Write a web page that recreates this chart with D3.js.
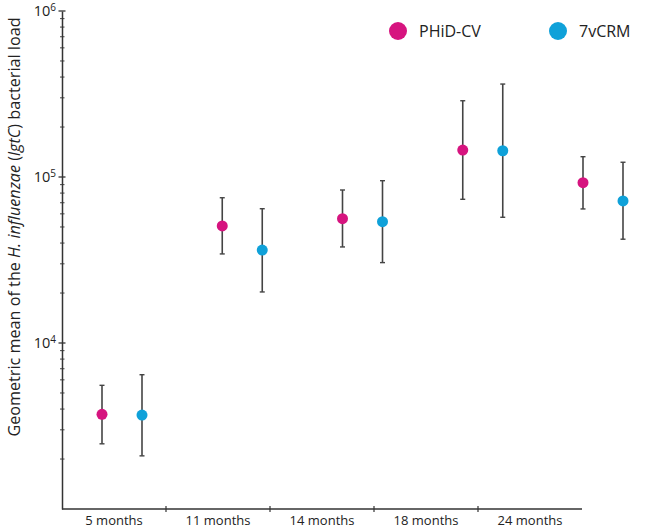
<!DOCTYPE html>
<html>
<head>
<meta charset="utf-8">
<script src="https://cdn.jsdelivr.net/npm/d3@7"></script>
<style>
  body { margin: 0; background: #fff; }
  text { font-family: "Open Sans", "Noto Sans", sans-serif; fill: #222; }
</style>
</head>
<body>
<div id="chart"></div>
<script>
var width = 665;
var height = 530;

// categories and series
var months = ["5 months", "11 months", "14 months", "18 months", "24 months"];
var groups = ["PHiD-CV", "7vCRM"];
var groupColors = ["#d6147f", "#0fa1d9"];

var phidMean  = [3720, 50700, 56100, 145400, 92400];
var phidLow   = [2470, 34400, 37900, 73400, 64200];
var phidHigh  = [5560, 75000, 83500, 288000, 132500];

var crmMean   = [3680, 36300, 53800, 143900, 71700];
var crmLow    = [2090, 20300, 30500, 57200, 42200];
var crmHigh   = [6440, 64400, 95000, 363000, 122700];

var yTickMajor = [1e3, 1e4, 1e5, 1e6];

var series = [
  { name: groups[0], color: groupColors[0], mean: phidMean, low: phidLow, high: phidHigh, shift: 0 },
  { name: groups[1], color: groupColors[1], mean: crmMean, low: crmLow, high: crmHigh, shift: 40 }
];

var svg = d3.select("#chart").append("svg")
    .attr("width", width)
    .attr("height", height);

var y = d3.scaleLog().domain([1e3, 1e6]).range([509, 11]);

// axis labels sit in bands, the points sit on their own (wider) grid like the original
var xBand = d3.scaleBand().domain(months).range([62, 582]);
var xPoint = d3.scalePoint().domain(months).range([102, 583]);

// minor ticks
var minor = [];
[1e3, 1e4, 1e5].forEach(function(d) {
  for (var k = 2; k <= 9; k++) minor.push(d * k);
});

svg.append("g").selectAll("line")
  .data(minor)
  .join("line")
    .attr("x1", 60).attr("x2", 64.5)
    .attr("y1", d => y(d)).attr("y2", d => y(d))
    .attr("stroke", "#555").attr("stroke-width", 1.1);

var yAxis = svg.append("g")
    .attr("transform", "translate(62,0)")
    .call(d3.axisLeft(y).tickValues(yTickMajor.slice(1)).tickSize(0).tickFormat(""));
yAxis.select(".domain").attr("stroke", "#333").attr("stroke-width", 1.5);

// major ticks cross the axis
svg.append("g").selectAll("line")
  .data(yTickMajor.slice(1))
  .join("line")
    .attr("x1", 58.5).attr("x2", 65.5)
    .attr("y1", d => y(d)).attr("y2", d => y(d))
    .attr("stroke", "#333").attr("stroke-width", 1.3);

// 10^n labels
var yLab = svg.append("g").selectAll("text")
  .data(yTickMajor.slice(1))
  .join("text")
    .attr("x", 56)
    .attr("y", d => y(d) + 5)
    .attr("text-anchor", "end")
    .style("font-size", "14.5px");
yLab.append("tspan").text("10");
yLab.append("tspan")
    .attr("dy", "-0.55em")
    .style("font-size", "10px")
    .text(d => Math.round(Math.log10(d)));

// x axis
svg.append("line")
    .attr("x1", 62).attr("x2", 582)
    .attr("y1", 509).attr("y2", 509)
    .attr("stroke", "#333").attr("stroke-width", 1.5);

svg.append("g").selectAll("line")
  .data(months.slice(1))
  .join("line")
    .attr("x1", d => xBand(d)).attr("x2", d => xBand(d))
    .attr("y1", 506).attr("y2", 512)
    .attr("stroke", "#333").attr("stroke-width", 1.2);

svg.append("g")
    .attr("transform", "translate(0,509)")
    .call(d3.axisBottom(xBand).tickSize(0).tickPadding(7))
    .call(g => g.select(".domain").remove())
    .call(g => g.selectAll("text")
        .style("font-family", "'Open Sans', sans-serif")
        .style("font-size", "13px")
        .attr("fill", "#222"));

// y title
var title = svg.append("text")
    .attr("transform", "translate(20,227) rotate(-90)")
    .attr("text-anchor", "middle")
    .style("font-size", "16.2px");
title.append("tspan").text("Geometric mean of the ");
title.append("tspan").style("font-style", "italic").text("H. influenzae");
title.append("tspan").text(" (");
title.append("tspan").style("font-style", "italic").text("lgtC");
title.append("tspan").text(") bacterial load");

// error bars and points
series.forEach(function(s) {
  var g = svg.append("g");
  var rows = months.map((m, i) => ({ m: m, mean: s.mean[i], low: s.low[i], high: s.high[i] }));
  var cx = d => xPoint(d.m) + s.shift;

  g.selectAll(".bar")
    .data(rows)
    .join("line")
      .attr("x1", cx).attr("x2", cx)
      .attr("y1", d => y(d.low)).attr("y2", d => y(d.high))
      .attr("stroke", "#444").attr("stroke-width", 1.6);

  g.selectAll(".capHi")
    .data(rows)
    .join("line")
      .attr("x1", d => cx(d) - 2.5).attr("x2", d => cx(d) + 2.5)
      .attr("y1", d => y(d.high)).attr("y2", d => y(d.high))
      .attr("stroke", "#444").attr("stroke-width", 1.4);

  g.selectAll(".capLo")
    .data(rows)
    .join("line")
      .attr("x1", d => cx(d) - 2.5).attr("x2", d => cx(d) + 2.5)
      .attr("y1", d => y(d.low)).attr("y2", d => y(d.low))
      .attr("stroke", "#444").attr("stroke-width", 1.4);

  g.selectAll("circle")
    .data(rows)
    .join("circle")
      .attr("cx", cx)
      .attr("cy", d => y(d.mean))
      .attr("r", 5.5)
      .attr("fill", s.color);
});

// legend
var legendX = [398, 558];
var legend = svg.append("g").selectAll("g")
  .data(series)
  .join("g")
    .attr("transform", (d, i) => `translate(${legendX[i]},31)`);
legend.append("circle")
    .attr("r", 9)
    .attr("fill", d => d.color);
legend.append("text")
    .attr("x", 21)
    .attr("y", 5.5)
    .style("font-size", "16px")
    .text(d => d.name);
</script>
</body>
</html>
